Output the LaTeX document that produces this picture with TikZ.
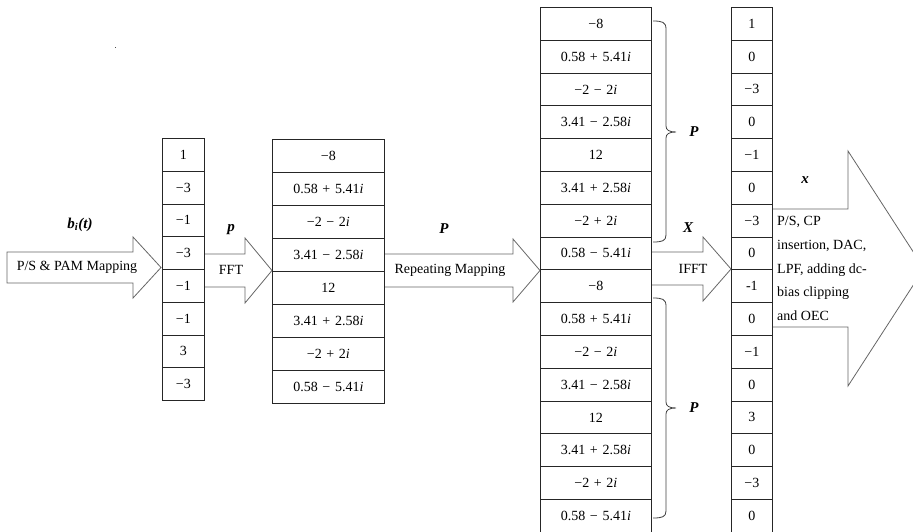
\documentclass[tikz,border=0pt]{standalone}
\usepackage{fontspec}
\setmainfont{Liberation Serif}
\newcommand\opsp{\hspace{0.33em}}
\begin{document}
\begin{tikzpicture}[x=1pt,y=-1pt,
  txt/.style={font=\fontsize{14}{16}\selectfont, inner sep=0pt},
  lbl/.style={font=\fontsize{15}{17}\selectfont\bfseries\itshape, inner sep=0pt},
  cell/.style={draw=black!85, line width=0.75pt, inner sep=0pt, anchor=north west,
    font=\fontsize{14}{16}\selectfont},
  blockarrow/.style={draw=black!60, line width=0.8pt, fill=white, line join=miter},
  bracepath/.style={draw=black!75, line width=0.8pt}]
\useasboundingbox (0,0) rectangle (913,532);
\clip (0,0) rectangle (913,532);
% stray dot
\fill[black!70] (114.5,47) rectangle (116,48.5);
% block arrows
\draw[blockarrow] (7,252) -- (133,252) -- (133,237) -- (161,267.5) -- (133,298) -- (133,283) -- (7,283) -- cycle;
\draw[blockarrow] (204,254) -- (245,254) -- (245,238) -- (272,270.5) -- (245,303) -- (245,287) -- (204,287);
\draw[blockarrow] (384,254) -- (513,254) -- (513,239) -- (540,270.5) -- (513,302) -- (513,287) -- (384,287);
\draw[blockarrow] (651,252) -- (703,252) -- (703,237) -- (731,269) -- (703,301) -- (703,285) -- (651,285);
\draw[blockarrow] (772,209) -- (848,209) -- (848,151) -- (924,268.5) -- (848,386) -- (848,327) -- (772,327);
% column 1
\foreach \v [count=\i] in {1,−3,−1,−3,−1,−1,3,−3}
  \node[cell, minimum width=42pt, minimum height=32.75pt] (a\i) at (162,{138+(\i-1)*32.75}) {\v};
% column 2
\foreach \v [count=\i] in {−8,0.58\opsp+\opsp5.41\textit{i},−2\opsp−\opsp2\textit{i},3.41\opsp−\opsp2.58\textit{i},12,3.41\opsp+\opsp2.58\textit{i},−2\opsp+\opsp2\textit{i},0.58\opsp−\opsp5.41\textit{i}}
  \node[cell, minimum width=112pt, minimum height=33pt] (b\i) at (272,{139+(\i-1)*33}) {\v};
% column 3
\foreach \v [count=\i] in {−8,0.58\opsp+\opsp5.41\textit{i},−2\opsp−\opsp2\textit{i},3.41\opsp−\opsp2.58\textit{i},12,3.41\opsp+\opsp2.58\textit{i},−2\opsp+\opsp2\textit{i},0.58\opsp−\opsp5.41\textit{i},−8,0.58\opsp+\opsp5.41\textit{i},−2\opsp−\opsp2\textit{i},3.41\opsp−\opsp2.58\textit{i},12,3.41\opsp+\opsp2.58\textit{i},−2\opsp+\opsp2\textit{i},0.58\opsp−\opsp5.41\textit{i}}
  \node[cell, minimum width=111pt, minimum height=32.8pt] (c\i) at (540,{7+(\i-1)*32.8}) {\v};
% column 4
\foreach \v [count=\i] in {1,0,−3,0,−1,0,−3,0,-1,0,−1,0,3,0,−3,0}
  \node[cell, minimum width=41pt, minimum height=32.8pt] (d\i) at (731,{7+(\i-1)*32.8}) {\v};
% braces
\draw[bracepath] (653,21) .. controls (662,21) and (666,22) .. (666,29) -- (666,126)
  .. controls (666,130) and (669,132) .. (676,132)
  .. controls (669,132) and (666,134) .. (666,138) -- (666,235)
  .. controls (666,241) and (662,242) .. (653,242);
\draw[bracepath] (653,298) .. controls (662,298) and (666,299) .. (666,306) -- (666,402)
  .. controls (666,406) and (669,408) .. (676,408)
  .. controls (669,408) and (666,410) .. (666,414) -- (666,511)
  .. controls (666,517) and (662,518) .. (653,518);
\node[lbl] (P1) at (694,132) {P};
\node[lbl] (P2) at (694,408) {P};
% labels
\node[lbl] (bt) at (80,225) {b\textsubscript{\itshape i}(t)};
\node[lbl] (lp) at (231,230) {p};
\node[lbl] (lP) at (444,229) {P};
\node[lbl] (lX) at (688,228) {X};
\node[lbl] (lx) at (805,180) {x};
\node[txt] (t1) at (77,267.5) {P/S \& PAM Mapping};
\node[txt] (t2) at (231,270) {FFT};
\node[txt] (t3) at (450,270) {Repeating Mapping};
\node[txt] (t4) at (693,269) {IFFT};
\node[txt, anchor=west] (t5a) at (777,222) {P/S, CP};
\node[txt, anchor=west] (t5b) at (777,246) {insertion, DAC,};
\node[txt, anchor=west] (t5c) at (777,270) {LPF, adding dc-};
\node[txt, anchor=west] (t5d) at (777,293) {bias clipping};
\node[txt, anchor=west] (t5e) at (777,316) {and OEC};
\end{tikzpicture}
\end{document}
